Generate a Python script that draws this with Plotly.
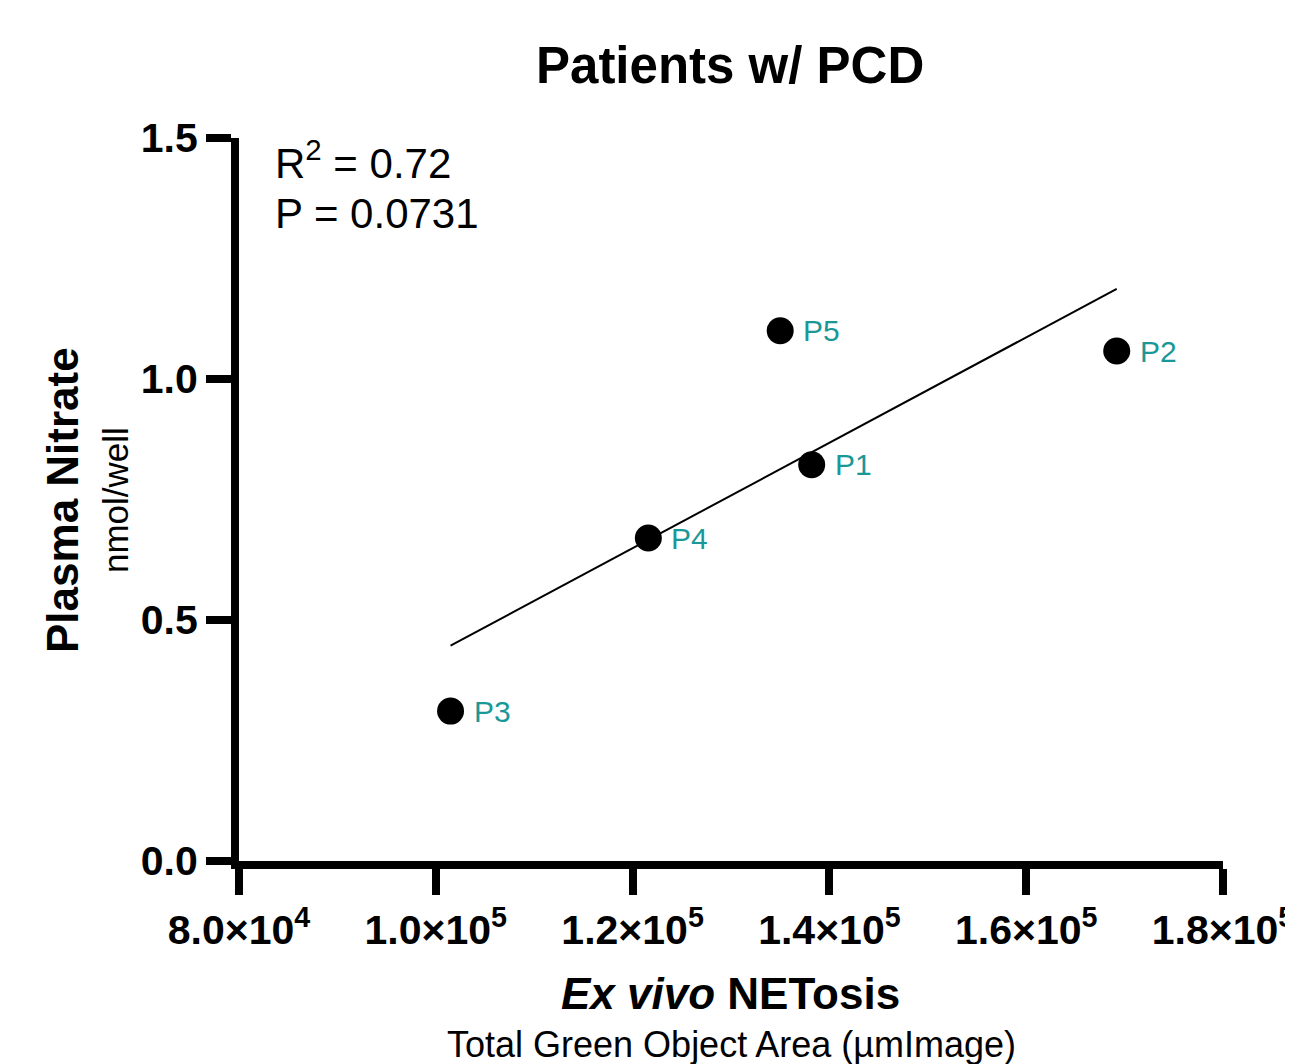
import numpy as np
import plotly.graph_objects as go

# Data
patients = ["P1", "P2", "P3", "P4", "P5"]
netosis = [138200, 169200, 101500, 121600, 135000]
nitrate = [0.822, 1.058, 0.311, 0.670, 1.100]

x_tickvals = [80000, 100000, 120000, 140000, 160000, 180000]
x_ticktext = ["8.0×10<sup>4</sup>", "1.0×10<sup>5</sup>", "1.2×10<sup>5</sup>",
              "1.4×10<sup>5</sup>", "1.6×10<sup>5</sup>", "1.8×10<sup>5</sup>"]
y_tickvals = [0.0, 0.5, 1.0, 1.5]
y_ticktext = ["0.0", "0.5", "1.0", "1.5"]

r2_text = "R<sup>2</sup> = 0.72"
p_text = "P = 0.0731"

FONT = "Liberation Sans, Arial, Helvetica, sans-serif"
TEAL = "#1a9898"

OFF = 8  # default page body margin
W, H = 1293 - OFF, 1064 - OFF
# plot area in page pixels: left 239, top 138, right 1223, bottom 861
L, T = 239 - OFF, 138 - OFF
R = W - (1223 - OFF)
B = H - (861 - OFF)
pw, ph = W - L - R, H - T - B

def px(x):
    return (x - OFF - L) / pw

def py(y):
    return (H - B - (y - OFF)) / ph

xs = np.array(netosis, dtype=float)
ys = np.array(nitrate, dtype=float)
slope, intercept = np.polyfit(xs, ys, 1)
fit_x = np.array([xs.min(), xs.max()])
fit_y = slope * fit_x + intercept

fig = go.Figure()
fig.add_trace(go.Scatter(x=fit_x, y=fit_y, mode="lines",
                         line=dict(color="black", width=2), showlegend=False,
                         hoverinfo="skip"))
fig.add_trace(go.Scatter(x=netosis, y=nitrate, mode="markers",
                         marker=dict(color="black", size=27), showlegend=False,
                         text=patients))

annotations = []
for name, xv, yv in zip(patients, netosis, nitrate):
    annotations.append(dict(x=xv, y=yv, xref="x", yref="y", text=name,
                            showarrow=False, xanchor="left", yanchor="middle",
                            xshift=21, font=dict(family=FONT, size=30, color=TEAL)))

annotations += [
    dict(x=px(273), y=py(160), xref="paper", yref="paper", text=r2_text,
         showarrow=False, xanchor="left", yanchor="middle",
         font=dict(family=FONT, size=42, color="black")),
    dict(x=px(273), y=py(214), xref="paper", yref="paper", text=p_text,
         showarrow=False, xanchor="left", yanchor="middle",
         font=dict(family=FONT, size=42, color="black")),
    dict(x=px(730), y=py(66), xref="paper", yref="paper",
         text="<b>Patients w/ PCD</b>", showarrow=False,
         xanchor="center", yanchor="middle",
         font=dict(family=FONT, size=51, color="black")),
    dict(x=px(730), y=py(993), xref="paper", yref="paper",
         text="<b><i>Ex vivo</i> NETosis</b>", showarrow=False,
         xanchor="center", yanchor="middle",
         font=dict(family=FONT, size=44, color="black")),
    dict(x=px(731), y=py(1044), xref="paper", yref="paper",
         text="Total Green Object Area (µmImage)", showarrow=False,
         xanchor="center", yanchor="middle",
         font=dict(family=FONT, size=36, color="black")),
    dict(x=px(62), y=py(500), xref="paper", yref="paper",
         text="<b>Plasma Nitrate</b>", showarrow=False, textangle=-90,
         xanchor="center", yanchor="middle",
         font=dict(family=FONT, size=44, color="black")),
    dict(x=px(115), y=py(500), xref="paper", yref="paper",
         text="nmol/well", showarrow=False, textangle=-90,
         xanchor="center", yanchor="middle",
         font=dict(family=FONT, size=35, color="black")),
]

fig.update_layout(
    width=W, height=H,
    margin=dict(l=L, r=R, t=T, b=B, pad=0, autoexpand=False),
    plot_bgcolor="white", paper_bgcolor="white",
    font=dict(family=FONT, color="black"),
    showlegend=False,
    annotations=annotations,
)
fig.update_xaxes(range=[80000, 180000], tickvals=x_tickvals, ticktext=x_ticktext,
                 showgrid=False, zeroline=False, showline=True, linecolor="black",
                 linewidth=8, ticks="outside", ticklen=26, tickwidth=8,
                 tickcolor="black", ticklabeloverflow="allow", automargin=False,
                 tickfont=dict(family=FONT, size=41, color="black", weight="bold"))
fig.update_yaxes(range=[0, 1.5], tickvals=y_tickvals, ticktext=y_ticktext,
                 showgrid=False, zeroline=False, showline=True, linecolor="black",
                 linewidth=8, ticks="outside", ticklen=25, tickwidth=8,
                 tickcolor="black", ticklabeloverflow="allow", automargin=False,
                 tickfont=dict(family=FONT, size=41, color="black", weight="bold"))

fig.write_html("out.html")
